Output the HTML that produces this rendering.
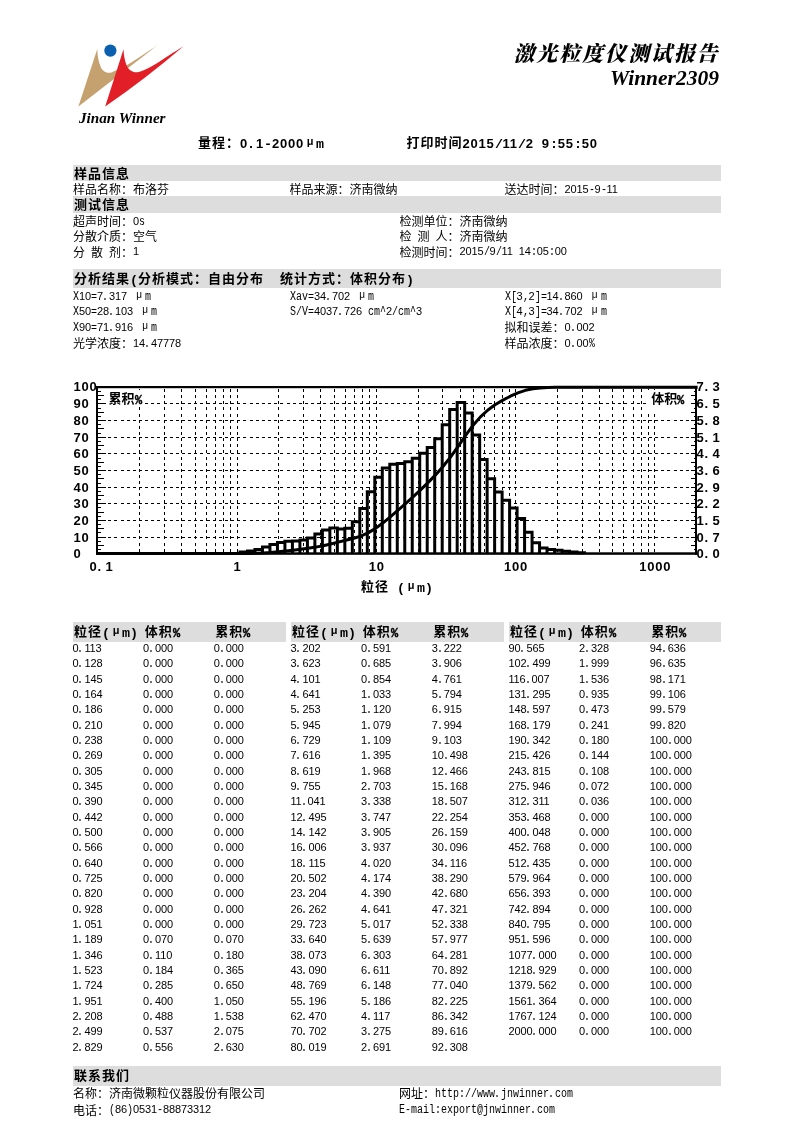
<!DOCTYPE html>
<html lang="zh-CN"><head><meta charset="utf-8"><title>激光粒度仪测试报告 Winner2309</title>
<style>
html,body{margin:0;padding:0;background:#fff}
body{width:794px;height:1122px;position:relative;overflow:hidden;color:#000}
.g{position:absolute;background:#ddd}
.r,.b{position:absolute;white-space:nowrap;line-height:18px;height:18px}
.r i,.b i{display:inline-block;font-style:normal;transform-origin:0 50%;letter-spacing:0;white-space:nowrap}
.r{font-size:11px;letter-spacing:-.116px;font-family:"Liberation Sans","Noto Sans CJK SC",sans-serif}
.r .c{font-size:12px;letter-spacing:0;position:relative;top:1.5px}
.r i{width:6px;font:12px "Liberation Mono",monospace;transform:scaleX(.8333)}
.r i.u{width:12px;font:10px "Liberation Sans",sans-serif;transform:none;text-align:center;position:relative;top:-2px}
.r i.p{position:relative;left:-1px}
.b{font-size:13px;font-weight:bold;letter-spacing:.77px;font-family:"Liberation Sans","Noto Sans CJK SC",sans-serif}
.b .c{letter-spacing:1px;position:relative;top:-1px}
.b i{width:8px;font:bold 13px "Liberation Mono",monospace;transform:scaleX(1.0256)}
.b i.u{width:12px;font:bold 11px "Liberation Sans",sans-serif;transform:none;text-align:center;position:relative;top:-3px}
.b i.p{position:relative;left:-1px}
.b i.q{font:bold 13px "Liberation Mono",monospace;transform:scaleX(.92);-webkit-text-stroke:.45px #000}
.r i.q{}
.b.k .c{letter-spacing:0}
.chart,.logo{position:absolute;left:0;top:0}
.ax{font:bold 13px "Liberation Sans",sans-serif;letter-spacing:.77px}
.ax .dot{letter-spacing:4.3px}
.t1,.t2,.jw{position:absolute;white-space:nowrap;font-weight:bold;font-style:italic}
.t1{font-family:"Liberation Serif","Noto Serif CJK SC",serif;font-weight:900;font-size:21px;letter-spacing:1.9px;right:74.5px;top:39px;line-height:30px}
.t2{font-family:"Liberation Serif",serif;font-size:21.5px;right:75px;top:65px;line-height:26px}
.jw{font-family:"Liberation Serif",serif;font-size:15.2px;left:79px;top:108px;line-height:20px}
</style></head>
<body>
<svg class="logo" width="794" height="1122" viewBox="0 0 794 1122">
<path d="M78.4 106.5 L97.3 49.1C97.4 50.1 97.4 52.8 97.7 55.1C98.0 57.4 98.5 60.3 99.2 62.7C100.0 65.1 101.0 67.9 102.2 69.5C103.5 71.1 105.2 72.0 106.7 72.5C108.2 73.0 109.8 72.8 111.3 72.5C112.8 72.2 113.0 71.9 115.8 70.6C118.6 69.3 123.5 67.1 127.9 64.6C132.3 62.1 137.1 58.8 142.0 55.6C146.9 52.4 154.9 47.0 157.5 45.3 Z" fill="#c5a170"/>
<path d="M105.2 106.5 L123.5 49.3C123.7 50.7 123.8 54.7 124.4 57.6C125.0 60.5 125.9 64.3 127.1 66.5C128.3 68.7 129.8 70.0 131.5 70.9C133.2 71.9 135.1 72.5 137.6 72.2C140.1 71.9 143.6 70.4 146.5 69.1C149.4 67.8 152.4 66.1 155.3 64.3C158.2 62.5 161.2 60.4 164.1 58.5C167.0 56.6 169.7 54.8 172.9 52.8C176.1 50.8 181.7 47.3 183.5 46.2 Q146 78.4 105.2 106.5 Z" fill="#e21e26"/>
<circle cx="110.4" cy="50.6" r="6.1" fill="#0a5fae"/>
</svg>
<div class="jw">Jinan Winner</div>
<div class="t1">激光粒度仪测试报告</div>
<div class="t2">Winner2309</div>
<svg class="chart" width="794" height="1122" viewBox="0 0 794 1122">
<path d="M108.3 403.5H691M108.3 420.5H691M108.3 437.5H691M108.3 453.5H691M108.3 470.5H691M108.3 487.5H691M108.3 503.5H691M108.3 520.5H691M108.3 537.5H691M139.5 389V552.5M164.5 389V552.5M181.5 389V552.5M195.5 389V552.5M206.5 389V552.5M215.5 389V552.5M223.5 389V552.5M230.5 389V552.5M237.5 389V552.5M278.5 389V552.5M303.5 389V552.5M320.5 389V552.5M334.5 389V552.5M345.5 389V552.5M354.5 389V552.5M362.5 389V552.5M369.5 389V552.5M376.5 389V552.5M418.5 389V552.5M442.5 389V552.5M460.5 389V552.5M473.5 389V552.5M484.5 389V552.5M494.5 389V552.5M502.5 389V552.5M509.5 389V552.5M515.5 389V552.5M557.5 389V552.5M582.5 389V552.5M599.5 389V552.5M612.5 389V552.5M623.5 389V552.5M633.5 389V552.5M641.5 389V552.5M648.5 389V552.5M654.5 389V552.5" stroke="#000" stroke-width="1" stroke-dasharray="3 3.145" fill="none" shape-rendering="crispEdges"/>
<rect x="106.5" y="390" width="38" height="17" fill="#fff"/>
<rect x="646" y="390" width="45" height="20.5" fill="#fff"/>
<path d="M98 391.5h3M695 391.5h-1M98 395.5h6M695 395.5h-4M98 399.5h3M695 399.5h-1M98 403.5h8M695 403.5h-4M98 408.5h3M695 408.5h-1M98 412.5h6M695 412.5h-4M98 416.5h3M695 416.5h-1M98 420.5h8M695 420.5h-4M98 424.5h3M695 424.5h-1M98 428.5h6M695 428.5h-4M98 433.5h3M695 433.5h-1M98 437.5h8M695 437.5h-4M98 441.5h3M695 441.5h-1M98 445.5h6M695 445.5h-4M98 449.5h3M695 449.5h-1M98 453.5h8M695 453.5h-4M98 458.5h3M695 458.5h-1M98 462.5h6M695 462.5h-4M98 466.5h3M695 466.5h-1M98 470.5h8M695 470.5h-4M98 474.5h3M695 474.5h-1M98 478.5h6M695 478.5h-4M98 483.5h3M695 483.5h-1M98 487.5h8M695 487.5h-4M98 491.5h3M695 491.5h-1M98 495.5h6M695 495.5h-4M98 499.5h3M695 499.5h-1M98 503.5h8M695 503.5h-4M98 507.5h3M695 507.5h-1M98 512.5h6M695 512.5h-4M98 516.5h3M695 516.5h-1M98 520.5h8M695 520.5h-4M98 524.5h3M695 524.5h-1M98 528.5h6M695 528.5h-4M98 532.5h3M695 532.5h-1M98 537.5h8M695 537.5h-4M98 541.5h3M695 541.5h-1M98 545.5h6M695 545.5h-4M98 549.5h3M695 549.5h-1" stroke="#000" stroke-width="1" fill="none" shape-rendering="crispEdges"/>
<path d="M240.01 553.60V552.00H247.47V553.60M247.47 553.60V551.08H254.98V553.60M254.98 553.60V549.39H262.45V553.60M262.45 553.60V547.08H269.95V553.60M269.95 553.60V544.45H277.43V553.60M277.43 553.60V542.44H284.92V553.60M284.92 553.60V541.32H292.41V553.60M292.41 553.60V540.89H299.91V553.60M299.91 553.60V540.08H307.41V553.60M307.41 553.60V537.94H314.88V553.60M314.88 553.60V534.07H322.38V553.60M322.38 553.60V529.98H329.86V553.60M329.86 553.60V527.99H337.35V553.60M337.35 553.60V528.93H344.84V553.60M344.84 553.60V528.24H352.33V553.60M352.33 553.60V521.70H359.82V553.60M359.82 553.60V508.60H367.31V553.60M367.31 553.60V491.79H374.80V553.60M374.80 553.60V477.27H382.29V553.60M382.29 553.60V467.91H389.78V553.60M389.78 553.60V464.30H397.27V553.60M397.27 553.60V463.57H404.76V553.60M404.76 553.60V461.67H412.24V553.60M412.24 553.60V458.15H419.73V553.60M419.73 553.60V453.21H427.22V553.60M427.22 553.60V447.47H434.71V553.60M434.71 553.60V438.87H442.20V553.60M442.20 553.60V424.65H449.69V553.60M449.69 553.60V409.46H457.18V553.60M457.18 553.60V402.42H464.67V553.60M464.67 553.60V413.01H472.16V553.60M472.16 553.60V435.01H479.65V553.60M479.65 553.60V459.45H487.14V553.60M487.14 553.60V478.71H494.63V553.60M494.63 553.60V492.06H502.11V553.60M502.11 553.60V500.36H509.60V553.60M509.60 553.60V507.89H517.09V553.60M517.09 553.60V518.47H524.58V553.60M524.58 553.60V532.22H532.07V553.60M532.07 553.60V542.78H539.56V553.60M539.56 553.60V548.09H547.05V553.60M547.05 553.60V549.48H554.54V553.60M554.54 553.60V550.31H562.03V553.60M562.03 553.60V551.13H569.52V553.60M569.52 553.60V551.95H577.01V553.60M577.01 553.60V552.78H584.50V553.60" stroke="#000" stroke-width="3" fill="none" stroke-linejoin="miter"/>
<path d="M97.70 553.60 L105.89 553.60 L113.43 553.60 L120.98 553.60 L128.43 553.60 L136.04 553.60 L143.39 553.60 L150.96 553.60 L158.36 553.60 L165.96 553.60 L173.42 553.60 L180.84 553.60 L188.41 553.60 L195.87 553.60 L203.37 553.60 L210.80 553.60 L218.35 553.60 L225.79 553.60 L233.28 553.60 L240.81 553.60 L248.27 553.48 L255.78 553.30 L263.25 552.99 L270.75 552.52 L278.23 551.85 L285.72 551.04 L293.21 550.15 L300.71 549.23 L308.21 548.24 L315.68 547.10 L323.18 545.68 L330.66 543.96 L338.15 542.10 L345.64 540.31 L353.13 538.46 L360.62 536.14 L368.11 532.87 L375.60 528.38 L383.09 522.82 L390.58 516.59 L398.07 510.10 L405.56 503.55 L413.04 496.87 L420.53 489.92 L428.02 482.62 L435.51 474.91 L443.00 466.56 L450.49 457.18 L457.98 446.70 L465.47 435.71 L472.96 425.48 L480.45 416.86 L487.94 410.01 L495.43 404.57 L502.91 400.09 L510.40 396.22 L517.89 392.90 L525.38 390.34 L532.87 388.79 L540.36 388.00 L547.85 387.60 L555.34 387.30 L562.83 387.30 L570.32 387.30 L577.81 387.30 L585.30 387.30 L592.79 387.30 L600.27 387.30 L607.76 387.30 L615.25 387.30 L622.74 387.30 L630.23 387.30 L637.72 387.30 L645.21 387.30 L652.70 387.30 L660.19 387.30 L667.68 387.30 L675.17 387.30 L682.66 387.30 L690.14 387.30 L697.63 387.30" stroke="#000" stroke-width="3" fill="none" stroke-linejoin="round"/>
<rect x="96" y="386" width="2" height="168.8" fill="#000"/>
<rect x="695" y="386" width="2" height="168.8" fill="#000"/>
<rect x="96" y="386" width="601" height="2.2" fill="#000"/>
<rect x="96" y="552.3" width="601" height="2.5" fill="#000"/>
<text class="ax" x="73.5" y="557.8">0</text>
<text class="ax" x="696.6" y="557.8">0<tspan class="dot">.</tspan>0</text>
<text class="ax" x="73.5" y="541.5">10</text>
<text class="ax" x="696.6" y="541.5">0<tspan class="dot">.</tspan>7</text>
<text class="ax" x="73.5" y="524.5">20</text>
<text class="ax" x="696.6" y="524.5">1<tspan class="dot">.</tspan>5</text>
<text class="ax" x="73.5" y="507.5">30</text>
<text class="ax" x="696.6" y="507.5">2<tspan class="dot">.</tspan>2</text>
<text class="ax" x="73.5" y="491.5">40</text>
<text class="ax" x="696.6" y="491.5">2<tspan class="dot">.</tspan>9</text>
<text class="ax" x="73.5" y="474.5">50</text>
<text class="ax" x="696.6" y="474.5">3<tspan class="dot">.</tspan>6</text>
<text class="ax" x="73.5" y="457.5">60</text>
<text class="ax" x="696.6" y="457.5">4<tspan class="dot">.</tspan>4</text>
<text class="ax" x="73.5" y="441.5">70</text>
<text class="ax" x="696.6" y="441.5">5<tspan class="dot">.</tspan>1</text>
<text class="ax" x="73.5" y="424.5">80</text>
<text class="ax" x="696.6" y="424.5">5<tspan class="dot">.</tspan>8</text>
<text class="ax" x="73.5" y="407.5">90</text>
<text class="ax" x="696.6" y="407.5">6<tspan class="dot">.</tspan>5</text>
<text class="ax" x="73.5" y="390.5">100</text>
<text class="ax" x="696.6" y="390.5">7<tspan class="dot">.</tspan>3</text>
<text class="ax" x="237.4" y="571" text-anchor="middle">1</text>
<text class="ax" x="376.7" y="571" text-anchor="middle">10</text>
<text class="ax" x="516.0" y="571" text-anchor="middle">100</text>
<text class="ax" x="655.3" y="571" text-anchor="middle">1000</text>
<text class="ax" x="89.5" y="571">0<tspan class="dot">.</tspan>1</text>
</svg>
<div class="g" style="left:73px;top:165px;width:648px;height:16px"></div>
<div class="g" style="left:73px;top:196px;width:648px;height:16.5px"></div>
<div class="g" style="left:73px;top:269px;width:648px;height:18.7px"></div>
<div class="g" style="left:73px;top:622px;width:213px;height:20px"></div>
<div class="g" style="left:291px;top:622px;width:213px;height:20px"></div>
<div class="g" style="left:508.5px;top:622px;width:212.5px;height:20px"></div>
<div class="g" style="left:73px;top:1066px;width:648px;height:19.5px"></div>
<div class="b" style="left:198.00px;top:134.60px;"><span class="c">量程：</span>0<i class="p">.</i>1<i>-</i>2000<i class="u">μ</i><i>m</i></div>
<div class="b" style="left:406.50px;top:134.60px;"><span class="c">打印时间</span>2015<i>/</i>11<i>/</i>2<i>&nbsp;</i>9<i>:</i>55<i>:</i>50</div>
<div class="b" style="left:74.00px;top:166.00px;"><span class="c">样品信息</span></div>
<div class="b" style="left:74.00px;top:197.00px;"><span class="c">测试信息</span></div>
<div class="b" style="left:74.00px;top:270.60px;"><span class="c">分析结果</span><i>(</i><span class="c">分析模式：自由分布</span><i style="width:16px">&nbsp;&nbsp;</i><span class="c">统计方式：体积分布</span><i>)</i></div>
<div class="b" style="left:74.00px;top:1068.20px;"><span class="c">联系我们</span></div>
<div class="r" style="left:73.00px;top:179.50px"><span class="c">样品名称：布洛芬</span></div>
<div class="r" style="left:289.50px;top:179.50px"><span class="c">样品来源：济南微纳</span></div>
<div class="r" style="left:504.50px;top:179.50px"><span class="c">送达时间：</span>2015<i>-</i>9<i>-</i>11</div>
<div class="r" style="left:73.00px;top:211.70px"><span class="c">超声时间：</span>0<i>s</i></div>
<div class="r" style="left:73.00px;top:226.90px"><span class="c">分散介质：空气</span></div>
<div class="r" style="left:73.00px;top:242.10px"><span class="c">分</span><i>&nbsp;</i><span class="c">散</span><i>&nbsp;</i><span class="c">剂：</span>1</div>
<div class="r" style="left:399.50px;top:211.70px"><span class="c">检测单位：济南微纳</span></div>
<div class="r" style="left:399.50px;top:226.90px"><span class="c">检</span><i>&nbsp;</i><span class="c">测</span><i>&nbsp;</i><span class="c">人：济南微纳</span></div>
<div class="r" style="left:399.50px;top:242.10px"><span class="c">检测时间：</span>2015<i>/</i>9<i>/</i>11<i>&nbsp;</i>14<i>:</i>05<i>:</i>00</div>
<div class="r" style="left:73.00px;top:287.20px"><i>X</i>10<i>=</i>7<i class="p">.</i>317<i>&nbsp;</i><i class="u">μ</i><i>m</i></div>
<div class="r" style="left:73.00px;top:302.30px"><i>X</i>50<i>=</i>28<i class="p">.</i>103<i>&nbsp;</i><i class="u">μ</i><i>m</i></div>
<div class="r" style="left:73.00px;top:317.80px"><i>X</i>90<i>=</i>71<i class="p">.</i>916<i>&nbsp;</i><i class="u">μ</i><i>m</i></div>
<div class="r" style="left:73.00px;top:333.60px"><span class="c">光学浓度：</span>14<i class="p">.</i>47778</div>
<div class="r" style="left:290.00px;top:287.20px"><i style="width:24px">Xav=</i>34<i class="p">.</i>702<i>&nbsp;</i><i class="u">μ</i><i>m</i></div>
<div class="r" style="left:290.00px;top:302.30px"><i style="width:24px">S/V=</i>4037<i class="p">.</i>726<i style="width:24px">&nbsp;cm^</i>2<i style="width:24px">/cm^</i>3</div>
<div class="r" style="left:504.50px;top:287.20px"><i style="width:12px">X[</i>3<i>,</i>2<i style="width:12px">]=</i>14<i class="p">.</i>860<i>&nbsp;</i><i class="u">μ</i><i>m</i></div>
<div class="r" style="left:504.50px;top:302.30px"><i style="width:12px">X[</i>4<i>,</i>3<i style="width:12px">]=</i>34<i class="p">.</i>702<i>&nbsp;</i><i class="u">μ</i><i>m</i></div>
<div class="r" style="left:504.50px;top:317.80px"><span class="c">拟和误差：</span>0<i class="p">.</i>002</div>
<div class="r" style="left:504.50px;top:333.60px"><span class="c">样品浓度：</span>0<i class="p">.</i>00<i class="q">%</i></div>
<div class="b" style="left:74.00px;top:624.00px;"><span class="c">粒径</span><i>(</i><i class="u">μ</i><i style="width:16px">m)</i></div>
<div class="b" style="left:144.70px;top:624.00px;"><span class="c">体积</span><i class="q">%</i></div>
<div class="b" style="left:215.30px;top:624.00px;"><span class="c">累积</span><i class="q">%</i></div>
<div class="b" style="left:292.00px;top:624.00px;"><span class="c">粒径</span><i>(</i><i class="u">μ</i><i style="width:16px">m)</i></div>
<div class="b" style="left:362.70px;top:624.00px;"><span class="c">体积</span><i class="q">%</i></div>
<div class="b" style="left:433.30px;top:624.00px;"><span class="c">累积</span><i class="q">%</i></div>
<div class="b" style="left:510.00px;top:624.00px;"><span class="c">粒径</span><i>(</i><i class="u">μ</i><i style="width:16px">m)</i></div>
<div class="b" style="left:580.70px;top:624.00px;"><span class="c">体积</span><i class="q">%</i></div>
<div class="b" style="left:651.30px;top:624.00px;"><span class="c">累积</span><i class="q">%</i></div>
<div class="r" style="left:72.40px;top:639.10px">0<i class="p">.</i>113</div>
<div class="r" style="left:143.10px;top:639.10px">0<i class="p">.</i>000</div>
<div class="r" style="left:213.80px;top:639.10px">0<i class="p">.</i>000</div>
<div class="r" style="left:72.40px;top:654.44px">0<i class="p">.</i>128</div>
<div class="r" style="left:143.10px;top:654.44px">0<i class="p">.</i>000</div>
<div class="r" style="left:213.80px;top:654.44px">0<i class="p">.</i>000</div>
<div class="r" style="left:72.40px;top:669.77px">0<i class="p">.</i>145</div>
<div class="r" style="left:143.10px;top:669.77px">0<i class="p">.</i>000</div>
<div class="r" style="left:213.80px;top:669.77px">0<i class="p">.</i>000</div>
<div class="r" style="left:72.40px;top:685.11px">0<i class="p">.</i>164</div>
<div class="r" style="left:143.10px;top:685.11px">0<i class="p">.</i>000</div>
<div class="r" style="left:213.80px;top:685.11px">0<i class="p">.</i>000</div>
<div class="r" style="left:72.40px;top:700.44px">0<i class="p">.</i>186</div>
<div class="r" style="left:143.10px;top:700.44px">0<i class="p">.</i>000</div>
<div class="r" style="left:213.80px;top:700.44px">0<i class="p">.</i>000</div>
<div class="r" style="left:72.40px;top:715.78px">0<i class="p">.</i>210</div>
<div class="r" style="left:143.10px;top:715.78px">0<i class="p">.</i>000</div>
<div class="r" style="left:213.80px;top:715.78px">0<i class="p">.</i>000</div>
<div class="r" style="left:72.40px;top:731.11px">0<i class="p">.</i>238</div>
<div class="r" style="left:143.10px;top:731.11px">0<i class="p">.</i>000</div>
<div class="r" style="left:213.80px;top:731.11px">0<i class="p">.</i>000</div>
<div class="r" style="left:72.40px;top:746.45px">0<i class="p">.</i>269</div>
<div class="r" style="left:143.10px;top:746.45px">0<i class="p">.</i>000</div>
<div class="r" style="left:213.80px;top:746.45px">0<i class="p">.</i>000</div>
<div class="r" style="left:72.40px;top:761.78px">0<i class="p">.</i>305</div>
<div class="r" style="left:143.10px;top:761.78px">0<i class="p">.</i>000</div>
<div class="r" style="left:213.80px;top:761.78px">0<i class="p">.</i>000</div>
<div class="r" style="left:72.40px;top:777.12px">0<i class="p">.</i>345</div>
<div class="r" style="left:143.10px;top:777.12px">0<i class="p">.</i>000</div>
<div class="r" style="left:213.80px;top:777.12px">0<i class="p">.</i>000</div>
<div class="r" style="left:72.40px;top:792.45px">0<i class="p">.</i>390</div>
<div class="r" style="left:143.10px;top:792.45px">0<i class="p">.</i>000</div>
<div class="r" style="left:213.80px;top:792.45px">0<i class="p">.</i>000</div>
<div class="r" style="left:72.40px;top:807.79px">0<i class="p">.</i>442</div>
<div class="r" style="left:143.10px;top:807.79px">0<i class="p">.</i>000</div>
<div class="r" style="left:213.80px;top:807.79px">0<i class="p">.</i>000</div>
<div class="r" style="left:72.40px;top:823.12px">0<i class="p">.</i>500</div>
<div class="r" style="left:143.10px;top:823.12px">0<i class="p">.</i>000</div>
<div class="r" style="left:213.80px;top:823.12px">0<i class="p">.</i>000</div>
<div class="r" style="left:72.40px;top:838.46px">0<i class="p">.</i>566</div>
<div class="r" style="left:143.10px;top:838.46px">0<i class="p">.</i>000</div>
<div class="r" style="left:213.80px;top:838.46px">0<i class="p">.</i>000</div>
<div class="r" style="left:72.40px;top:853.79px">0<i class="p">.</i>640</div>
<div class="r" style="left:143.10px;top:853.79px">0<i class="p">.</i>000</div>
<div class="r" style="left:213.80px;top:853.79px">0<i class="p">.</i>000</div>
<div class="r" style="left:72.40px;top:869.12px">0<i class="p">.</i>725</div>
<div class="r" style="left:143.10px;top:869.12px">0<i class="p">.</i>000</div>
<div class="r" style="left:213.80px;top:869.12px">0<i class="p">.</i>000</div>
<div class="r" style="left:72.40px;top:884.46px">0<i class="p">.</i>820</div>
<div class="r" style="left:143.10px;top:884.46px">0<i class="p">.</i>000</div>
<div class="r" style="left:213.80px;top:884.46px">0<i class="p">.</i>000</div>
<div class="r" style="left:72.40px;top:899.80px">0<i class="p">.</i>928</div>
<div class="r" style="left:143.10px;top:899.80px">0<i class="p">.</i>000</div>
<div class="r" style="left:213.80px;top:899.80px">0<i class="p">.</i>000</div>
<div class="r" style="left:72.40px;top:915.13px">1<i class="p">.</i>051</div>
<div class="r" style="left:143.10px;top:915.13px">0<i class="p">.</i>000</div>
<div class="r" style="left:213.80px;top:915.13px">0<i class="p">.</i>000</div>
<div class="r" style="left:72.40px;top:930.47px">1<i class="p">.</i>189</div>
<div class="r" style="left:143.10px;top:930.47px">0<i class="p">.</i>070</div>
<div class="r" style="left:213.80px;top:930.47px">0<i class="p">.</i>070</div>
<div class="r" style="left:72.40px;top:945.80px">1<i class="p">.</i>346</div>
<div class="r" style="left:143.10px;top:945.80px">0<i class="p">.</i>110</div>
<div class="r" style="left:213.80px;top:945.80px">0<i class="p">.</i>180</div>
<div class="r" style="left:72.40px;top:961.13px">1<i class="p">.</i>523</div>
<div class="r" style="left:143.10px;top:961.13px">0<i class="p">.</i>184</div>
<div class="r" style="left:213.80px;top:961.13px">0<i class="p">.</i>365</div>
<div class="r" style="left:72.40px;top:976.47px">1<i class="p">.</i>724</div>
<div class="r" style="left:143.10px;top:976.47px">0<i class="p">.</i>285</div>
<div class="r" style="left:213.80px;top:976.47px">0<i class="p">.</i>650</div>
<div class="r" style="left:72.40px;top:991.81px">1<i class="p">.</i>951</div>
<div class="r" style="left:143.10px;top:991.81px">0<i class="p">.</i>400</div>
<div class="r" style="left:213.80px;top:991.81px">1<i class="p">.</i>050</div>
<div class="r" style="left:72.40px;top:1007.14px">2<i class="p">.</i>208</div>
<div class="r" style="left:143.10px;top:1007.14px">0<i class="p">.</i>488</div>
<div class="r" style="left:213.80px;top:1007.14px">1<i class="p">.</i>538</div>
<div class="r" style="left:72.40px;top:1022.47px">2<i class="p">.</i>499</div>
<div class="r" style="left:143.10px;top:1022.47px">0<i class="p">.</i>537</div>
<div class="r" style="left:213.80px;top:1022.47px">2<i class="p">.</i>075</div>
<div class="r" style="left:72.40px;top:1037.81px">2<i class="p">.</i>829</div>
<div class="r" style="left:143.10px;top:1037.81px">0<i class="p">.</i>556</div>
<div class="r" style="left:213.80px;top:1037.81px">2<i class="p">.</i>630</div>
<div class="r" style="left:290.40px;top:639.10px">3<i class="p">.</i>202</div>
<div class="r" style="left:361.10px;top:639.10px">0<i class="p">.</i>591</div>
<div class="r" style="left:431.80px;top:639.10px">3<i class="p">.</i>222</div>
<div class="r" style="left:290.40px;top:654.44px">3<i class="p">.</i>623</div>
<div class="r" style="left:361.10px;top:654.44px">0<i class="p">.</i>685</div>
<div class="r" style="left:431.80px;top:654.44px">3<i class="p">.</i>906</div>
<div class="r" style="left:290.40px;top:669.77px">4<i class="p">.</i>101</div>
<div class="r" style="left:361.10px;top:669.77px">0<i class="p">.</i>854</div>
<div class="r" style="left:431.80px;top:669.77px">4<i class="p">.</i>761</div>
<div class="r" style="left:290.40px;top:685.11px">4<i class="p">.</i>641</div>
<div class="r" style="left:361.10px;top:685.11px">1<i class="p">.</i>033</div>
<div class="r" style="left:431.80px;top:685.11px">5<i class="p">.</i>794</div>
<div class="r" style="left:290.40px;top:700.44px">5<i class="p">.</i>253</div>
<div class="r" style="left:361.10px;top:700.44px">1<i class="p">.</i>120</div>
<div class="r" style="left:431.80px;top:700.44px">6<i class="p">.</i>915</div>
<div class="r" style="left:290.40px;top:715.78px">5<i class="p">.</i>945</div>
<div class="r" style="left:361.10px;top:715.78px">1<i class="p">.</i>079</div>
<div class="r" style="left:431.80px;top:715.78px">7<i class="p">.</i>994</div>
<div class="r" style="left:290.40px;top:731.11px">6<i class="p">.</i>729</div>
<div class="r" style="left:361.10px;top:731.11px">1<i class="p">.</i>109</div>
<div class="r" style="left:431.80px;top:731.11px">9<i class="p">.</i>103</div>
<div class="r" style="left:290.40px;top:746.45px">7<i class="p">.</i>616</div>
<div class="r" style="left:361.10px;top:746.45px">1<i class="p">.</i>395</div>
<div class="r" style="left:431.80px;top:746.45px">10<i class="p">.</i>498</div>
<div class="r" style="left:290.40px;top:761.78px">8<i class="p">.</i>619</div>
<div class="r" style="left:361.10px;top:761.78px">1<i class="p">.</i>968</div>
<div class="r" style="left:431.80px;top:761.78px">12<i class="p">.</i>466</div>
<div class="r" style="left:290.40px;top:777.12px">9<i class="p">.</i>755</div>
<div class="r" style="left:361.10px;top:777.12px">2<i class="p">.</i>703</div>
<div class="r" style="left:431.80px;top:777.12px">15<i class="p">.</i>168</div>
<div class="r" style="left:290.40px;top:792.45px">11<i class="p">.</i>041</div>
<div class="r" style="left:361.10px;top:792.45px">3<i class="p">.</i>338</div>
<div class="r" style="left:431.80px;top:792.45px">18<i class="p">.</i>507</div>
<div class="r" style="left:290.40px;top:807.79px">12<i class="p">.</i>495</div>
<div class="r" style="left:361.10px;top:807.79px">3<i class="p">.</i>747</div>
<div class="r" style="left:431.80px;top:807.79px">22<i class="p">.</i>254</div>
<div class="r" style="left:290.40px;top:823.12px">14<i class="p">.</i>142</div>
<div class="r" style="left:361.10px;top:823.12px">3<i class="p">.</i>905</div>
<div class="r" style="left:431.80px;top:823.12px">26<i class="p">.</i>159</div>
<div class="r" style="left:290.40px;top:838.46px">16<i class="p">.</i>006</div>
<div class="r" style="left:361.10px;top:838.46px">3<i class="p">.</i>937</div>
<div class="r" style="left:431.80px;top:838.46px">30<i class="p">.</i>096</div>
<div class="r" style="left:290.40px;top:853.79px">18<i class="p">.</i>115</div>
<div class="r" style="left:361.10px;top:853.79px">4<i class="p">.</i>020</div>
<div class="r" style="left:431.80px;top:853.79px">34<i class="p">.</i>116</div>
<div class="r" style="left:290.40px;top:869.12px">20<i class="p">.</i>502</div>
<div class="r" style="left:361.10px;top:869.12px">4<i class="p">.</i>174</div>
<div class="r" style="left:431.80px;top:869.12px">38<i class="p">.</i>290</div>
<div class="r" style="left:290.40px;top:884.46px">23<i class="p">.</i>204</div>
<div class="r" style="left:361.10px;top:884.46px">4<i class="p">.</i>390</div>
<div class="r" style="left:431.80px;top:884.46px">42<i class="p">.</i>680</div>
<div class="r" style="left:290.40px;top:899.80px">26<i class="p">.</i>262</div>
<div class="r" style="left:361.10px;top:899.80px">4<i class="p">.</i>641</div>
<div class="r" style="left:431.80px;top:899.80px">47<i class="p">.</i>321</div>
<div class="r" style="left:290.40px;top:915.13px">29<i class="p">.</i>723</div>
<div class="r" style="left:361.10px;top:915.13px">5<i class="p">.</i>017</div>
<div class="r" style="left:431.80px;top:915.13px">52<i class="p">.</i>338</div>
<div class="r" style="left:290.40px;top:930.47px">33<i class="p">.</i>640</div>
<div class="r" style="left:361.10px;top:930.47px">5<i class="p">.</i>639</div>
<div class="r" style="left:431.80px;top:930.47px">57<i class="p">.</i>977</div>
<div class="r" style="left:290.40px;top:945.80px">38<i class="p">.</i>073</div>
<div class="r" style="left:361.10px;top:945.80px">6<i class="p">.</i>303</div>
<div class="r" style="left:431.80px;top:945.80px">64<i class="p">.</i>281</div>
<div class="r" style="left:290.40px;top:961.13px">43<i class="p">.</i>090</div>
<div class="r" style="left:361.10px;top:961.13px">6<i class="p">.</i>611</div>
<div class="r" style="left:431.80px;top:961.13px">70<i class="p">.</i>892</div>
<div class="r" style="left:290.40px;top:976.47px">48<i class="p">.</i>769</div>
<div class="r" style="left:361.10px;top:976.47px">6<i class="p">.</i>148</div>
<div class="r" style="left:431.80px;top:976.47px">77<i class="p">.</i>040</div>
<div class="r" style="left:290.40px;top:991.81px">55<i class="p">.</i>196</div>
<div class="r" style="left:361.10px;top:991.81px">5<i class="p">.</i>186</div>
<div class="r" style="left:431.80px;top:991.81px">82<i class="p">.</i>225</div>
<div class="r" style="left:290.40px;top:1007.14px">62<i class="p">.</i>470</div>
<div class="r" style="left:361.10px;top:1007.14px">4<i class="p">.</i>117</div>
<div class="r" style="left:431.80px;top:1007.14px">86<i class="p">.</i>342</div>
<div class="r" style="left:290.40px;top:1022.47px">70<i class="p">.</i>702</div>
<div class="r" style="left:361.10px;top:1022.47px">3<i class="p">.</i>275</div>
<div class="r" style="left:431.80px;top:1022.47px">89<i class="p">.</i>616</div>
<div class="r" style="left:290.40px;top:1037.81px">80<i class="p">.</i>019</div>
<div class="r" style="left:361.10px;top:1037.81px">2<i class="p">.</i>691</div>
<div class="r" style="left:431.80px;top:1037.81px">92<i class="p">.</i>308</div>
<div class="r" style="left:508.40px;top:639.10px">90<i class="p">.</i>565</div>
<div class="r" style="left:579.10px;top:639.10px">2<i class="p">.</i>328</div>
<div class="r" style="left:649.80px;top:639.10px">94<i class="p">.</i>636</div>
<div class="r" style="left:508.40px;top:654.44px">102<i class="p">.</i>499</div>
<div class="r" style="left:579.10px;top:654.44px">1<i class="p">.</i>999</div>
<div class="r" style="left:649.80px;top:654.44px">96<i class="p">.</i>635</div>
<div class="r" style="left:508.40px;top:669.77px">116<i class="p">.</i>007</div>
<div class="r" style="left:579.10px;top:669.77px">1<i class="p">.</i>536</div>
<div class="r" style="left:649.80px;top:669.77px">98<i class="p">.</i>171</div>
<div class="r" style="left:508.40px;top:685.11px">131<i class="p">.</i>295</div>
<div class="r" style="left:579.10px;top:685.11px">0<i class="p">.</i>935</div>
<div class="r" style="left:649.80px;top:685.11px">99<i class="p">.</i>106</div>
<div class="r" style="left:508.40px;top:700.44px">148<i class="p">.</i>597</div>
<div class="r" style="left:579.10px;top:700.44px">0<i class="p">.</i>473</div>
<div class="r" style="left:649.80px;top:700.44px">99<i class="p">.</i>579</div>
<div class="r" style="left:508.40px;top:715.78px">168<i class="p">.</i>179</div>
<div class="r" style="left:579.10px;top:715.78px">0<i class="p">.</i>241</div>
<div class="r" style="left:649.80px;top:715.78px">99<i class="p">.</i>820</div>
<div class="r" style="left:508.40px;top:731.11px">190<i class="p">.</i>342</div>
<div class="r" style="left:579.10px;top:731.11px">0<i class="p">.</i>180</div>
<div class="r" style="left:649.80px;top:731.11px">100<i class="p">.</i>000</div>
<div class="r" style="left:508.40px;top:746.45px">215<i class="p">.</i>426</div>
<div class="r" style="left:579.10px;top:746.45px">0<i class="p">.</i>144</div>
<div class="r" style="left:649.80px;top:746.45px">100<i class="p">.</i>000</div>
<div class="r" style="left:508.40px;top:761.78px">243<i class="p">.</i>815</div>
<div class="r" style="left:579.10px;top:761.78px">0<i class="p">.</i>108</div>
<div class="r" style="left:649.80px;top:761.78px">100<i class="p">.</i>000</div>
<div class="r" style="left:508.40px;top:777.12px">275<i class="p">.</i>946</div>
<div class="r" style="left:579.10px;top:777.12px">0<i class="p">.</i>072</div>
<div class="r" style="left:649.80px;top:777.12px">100<i class="p">.</i>000</div>
<div class="r" style="left:508.40px;top:792.45px">312<i class="p">.</i>311</div>
<div class="r" style="left:579.10px;top:792.45px">0<i class="p">.</i>036</div>
<div class="r" style="left:649.80px;top:792.45px">100<i class="p">.</i>000</div>
<div class="r" style="left:508.40px;top:807.79px">353<i class="p">.</i>468</div>
<div class="r" style="left:579.10px;top:807.79px">0<i class="p">.</i>000</div>
<div class="r" style="left:649.80px;top:807.79px">100<i class="p">.</i>000</div>
<div class="r" style="left:508.40px;top:823.12px">400<i class="p">.</i>048</div>
<div class="r" style="left:579.10px;top:823.12px">0<i class="p">.</i>000</div>
<div class="r" style="left:649.80px;top:823.12px">100<i class="p">.</i>000</div>
<div class="r" style="left:508.40px;top:838.46px">452<i class="p">.</i>768</div>
<div class="r" style="left:579.10px;top:838.46px">0<i class="p">.</i>000</div>
<div class="r" style="left:649.80px;top:838.46px">100<i class="p">.</i>000</div>
<div class="r" style="left:508.40px;top:853.79px">512<i class="p">.</i>435</div>
<div class="r" style="left:579.10px;top:853.79px">0<i class="p">.</i>000</div>
<div class="r" style="left:649.80px;top:853.79px">100<i class="p">.</i>000</div>
<div class="r" style="left:508.40px;top:869.12px">579<i class="p">.</i>964</div>
<div class="r" style="left:579.10px;top:869.12px">0<i class="p">.</i>000</div>
<div class="r" style="left:649.80px;top:869.12px">100<i class="p">.</i>000</div>
<div class="r" style="left:508.40px;top:884.46px">656<i class="p">.</i>393</div>
<div class="r" style="left:579.10px;top:884.46px">0<i class="p">.</i>000</div>
<div class="r" style="left:649.80px;top:884.46px">100<i class="p">.</i>000</div>
<div class="r" style="left:508.40px;top:899.80px">742<i class="p">.</i>894</div>
<div class="r" style="left:579.10px;top:899.80px">0<i class="p">.</i>000</div>
<div class="r" style="left:649.80px;top:899.80px">100<i class="p">.</i>000</div>
<div class="r" style="left:508.40px;top:915.13px">840<i class="p">.</i>795</div>
<div class="r" style="left:579.10px;top:915.13px">0<i class="p">.</i>000</div>
<div class="r" style="left:649.80px;top:915.13px">100<i class="p">.</i>000</div>
<div class="r" style="left:508.40px;top:930.47px">951<i class="p">.</i>596</div>
<div class="r" style="left:579.10px;top:930.47px">0<i class="p">.</i>000</div>
<div class="r" style="left:649.80px;top:930.47px">100<i class="p">.</i>000</div>
<div class="r" style="left:508.40px;top:945.80px">1077<i class="p">.</i>000</div>
<div class="r" style="left:579.10px;top:945.80px">0<i class="p">.</i>000</div>
<div class="r" style="left:649.80px;top:945.80px">100<i class="p">.</i>000</div>
<div class="r" style="left:508.40px;top:961.13px">1218<i class="p">.</i>929</div>
<div class="r" style="left:579.10px;top:961.13px">0<i class="p">.</i>000</div>
<div class="r" style="left:649.80px;top:961.13px">100<i class="p">.</i>000</div>
<div class="r" style="left:508.40px;top:976.47px">1379<i class="p">.</i>562</div>
<div class="r" style="left:579.10px;top:976.47px">0<i class="p">.</i>000</div>
<div class="r" style="left:649.80px;top:976.47px">100<i class="p">.</i>000</div>
<div class="r" style="left:508.40px;top:991.81px">1561<i class="p">.</i>364</div>
<div class="r" style="left:579.10px;top:991.81px">0<i class="p">.</i>000</div>
<div class="r" style="left:649.80px;top:991.81px">100<i class="p">.</i>000</div>
<div class="r" style="left:508.40px;top:1007.14px">1767<i class="p">.</i>124</div>
<div class="r" style="left:579.10px;top:1007.14px">0<i class="p">.</i>000</div>
<div class="r" style="left:649.80px;top:1007.14px">100<i class="p">.</i>000</div>
<div class="r" style="left:508.40px;top:1022.47px">2000<i class="p">.</i>000</div>
<div class="r" style="left:579.10px;top:1022.47px">0<i class="p">.</i>000</div>
<div class="r" style="left:649.80px;top:1022.47px">100<i class="p">.</i>000</div>
<div class="r" style="left:73.00px;top:1083.80px"><span class="c">名称：济南微颗粒仪器股份有限公司</span></div>
<div class="r" style="left:73.00px;top:1100.00px"><span class="c">电话：</span><i>(</i>86<i>)</i>0531<i>-</i>88873312</div>
<div class="r" style="left:399.00px;top:1083.80px"><span class="c">网址：</span><i style="width:60px">http://www</i><i class="p">.</i><i style="width:48px">jnwinner</i><i class="p">.</i><i style="width:18px">com</i></div>
<div class="r" style="left:399.00px;top:1100.00px"><i style="width:132px">E-mail:export@jnwinner</i><i class="p">.</i><i style="width:18px">com</i></div>
<div class="b k" style="left:108.50px;top:390.80px;"><span class="c">累积</span><i class="q">%</i></div>
<div class="b k" style="left:651.30px;top:391.40px;"><span class="c">体积</span><i class="q">%</i></div>
<div class="b" style="left:361.00px;top:579.20px;"><span class="c">粒径</span><i style="width:16px">&nbsp;(</i><i class="u">μ</i><i style="width:16px">m)</i></div>
</body></html>
